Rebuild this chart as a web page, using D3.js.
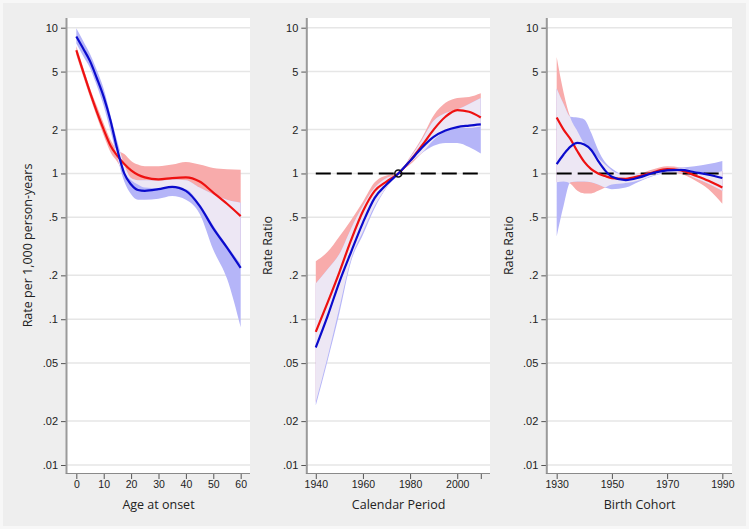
<!DOCTYPE html>
<html><head><meta charset="utf-8">
<script src="https://cdn.jsdelivr.net/npm/d3@7/dist/d3.min.js"></script>
<style>
html,body{margin:0;padding:0;background:#f7f7f7;}
svg{display:block;font-family:"Open Sans","Noto Sans",sans-serif;}
</style></head>
<body>
<svg id="chart" width="749" height="529"></svg>
<script>
// ---------- Data ----------
const yTickValues = [10, 5, 2, 1, 0.5, 0.2, 0.1, 0.05, 0.02, 0.01];
const yTickLabels = ["10", "5", "2", "1", ".5", ".2", ".1", ".05", ".02", ".01"];

// Panel 1: Age at onset
const ageX = [0, 2.5, 5, 7.5, 10, 12.5, 15, 17.5, 20, 22.5, 25, 30, 35, 40, 45, 50, 55, 60];
const ageRed      = [7.0, 5.0, 3.6, 2.65, 2.0, 1.55, 1.32, 1.16, 1.05, 0.98, 0.94, 0.91, 0.93, 0.94, 0.88, 0.74, 0.62, 0.51];
const ageRedUpper = [7.5, 5.35, 3.85, 2.9, 2.2, 1.7, 1.45, 1.36, 1.22, 1.15, 1.12, 1.12, 1.15, 1.2, 1.15, 1.09, 1.07, 1.06];
const ageRedLower = [6.5, 4.65, 3.35, 2.45, 1.82, 1.4, 1.2, 1.0, 0.9, 0.84, 0.8, 0.79, 0.8, 0.78, 0.62, 0.44, 0.32, 0.24];
const ageBlue      = [8.7, 7.2, 5.9, 4.5, 3.35, 2.3, 1.45, 1.0, 0.84, 0.77, 0.76, 0.78, 0.81, 0.76, 0.6, 0.42, 0.31, 0.225];
const ageBlueUpper = [9.9, 8.1, 6.6, 5.1, 3.8, 2.5, 1.65, 1.15, 0.93, 0.9, 0.9, 0.89, 0.91, 0.9, 0.8, 0.72, 0.66, 0.63];
const ageBlueLower = [7.8, 6.4, 5.3, 4.0, 2.9, 1.95, 1.28, 0.88, 0.72, 0.66, 0.66, 0.67, 0.7, 0.66, 0.53, 0.3, 0.19, 0.088];
const ageTicks = [0, 10, 20, 30, 40, 50, 60];

// Panel 2: Calendar period
const perX = [1940, 1945, 1950, 1955, 1960, 1965, 1970, 1975, 1980, 1985, 1990, 1995, 2000, 2005, 2010];
const perRed      = [0.082, 0.13, 0.21, 0.35, 0.55, 0.76, 0.88, 1.0, 1.22, 1.55, 2.0, 2.45, 2.72, 2.65, 2.42];
const perRedUpper = [0.25, 0.29, 0.37, 0.48, 0.64, 0.87, 0.97, 1.0, 1.3, 1.75, 2.5, 3.05, 3.3, 3.35, 3.55];
const perRedLower = [0.027, 0.055, 0.12, 0.26, 0.4, 0.6, 0.8, 1.0, 1.15, 1.38, 1.7, 1.95, 2.05, 2.05, 2.1];
const perBlue      = [0.064, 0.105, 0.18, 0.29, 0.46, 0.68, 0.84, 1.0, 1.22, 1.5, 1.78, 1.97, 2.08, 2.13, 2.17];
const perBlueUpper = [0.176, 0.22, 0.28, 0.42, 0.6, 0.8, 0.93, 1.0, 1.28, 1.7, 2.3, 2.6, 2.75, 3.0, 3.3];
const perBlueLower = [0.0256, 0.052, 0.11, 0.25, 0.38, 0.58, 0.8, 1.0, 1.18, 1.38, 1.55, 1.62, 1.62, 1.52, 1.37];
const perTicks = [1940, 1960, 1980, 2000, 2010];
const perTickLabels = ["1940", "1960", "1980", "2000", ""];

// Panel 3: Birth cohort
const cohX = [1930, 1932.5, 1935, 1937.5, 1940, 1942.5, 1945, 1947.5, 1950, 1955, 1960, 1965, 1970, 1975, 1980, 1985, 1990];
const cohRed      = [2.42, 2.0, 1.72, 1.42, 1.2, 1.07, 1.0, 0.96, 0.93, 0.92, 0.96, 1.02, 1.07, 1.05, 0.97, 0.89, 0.80];
const cohRedUpper = [6.3, 3.6, 2.4, 1.95, 1.6, 1.42, 1.28, 1.15, 1.05, 0.98, 1.0, 1.07, 1.12, 1.1, 1.04, 1.0, 1.04];
const cohRedLower = [0.87, 0.88, 0.85, 0.76, 0.73, 0.73, 0.76, 0.8, 0.84, 0.86, 0.9, 0.97, 1.02, 0.99, 0.9, 0.78, 0.62];
const cohBlue      = [1.16, 1.35, 1.53, 1.62, 1.58, 1.45, 1.22, 1.05, 0.95, 0.9, 0.94, 1.01, 1.05, 1.06, 1.02, 0.98, 0.93];
const cohBlueUpper = [3.83, 3.0, 2.45, 2.42, 2.35, 1.9, 1.45, 1.2, 1.08, 0.98, 0.99, 1.04, 1.08, 1.1, 1.12, 1.16, 1.22];
const cohBlueLower = [0.37, 0.6, 0.87, 0.88, 0.88, 0.87, 0.84, 0.8, 0.78, 0.8, 0.88, 0.96, 1.01, 1.02, 0.93, 0.85, 0.76];
const cohTicks = [1930, 1950, 1970, 1990];

// ---------- Drawing ----------
const svg = d3.select("#chart");
svg.append("rect").attr("x", 3).attr("y", 3).attr("width", 743).attr("height", 523).attr("fill", "#eeeeee");

const COLORS = { red: "#ee1111", blue: "#0b0bcc", pink: "#f8abab", lblue: "#b5b5f8", lav: "#ede7f4" };
const yTop = 18, yBot = 473;
const y = d3.scaleLog().domain([0.01, 10]).range([465, 27.7]);

const panels = [
  { left: 67, right: 250, dom: [-3.4, 63.4], xs: ageX,
    red: ageRed, ru: ageRedUpper, rl: ageRedLower, blue: ageBlue, bu: ageBlueUpper, bl: ageBlueLower,
    ticks: ageTicks, tickLabels: ageTicks.map(String), xTitle: "Age at onset", yTitle: "Rate per 1,000 person-years", yTitleX: 28, ref: false },
  { left: 307.3, right: 490, dom: [1936.4, 2013.9], xs: perX,
    red: perRed, ru: perRedUpper, rl: perRedLower, blue: perBlue, bu: perBlueUpper, bl: perBlueLower,
    ticks: perTicks, tickLabels: perTickLabels, xTitle: "Calendar Period", yTitle: "Rate Ratio", yTitleX: 268, ref: true, refPoint: 1975 },
  { left: 547.3, right: 732, dom: [1926.6, 1993.5], xs: cohX,
    red: cohRed, ru: cohRedUpper, rl: cohRedLower, blue: cohBlue, bu: cohBlueUpper, bl: cohBlueLower,
    ticks: cohTicks, tickLabels: cohTicks.map(String), xTitle: "Birth Cohort", yTitle: "Rate Ratio", yTitleX: 509, ref: true }
];

panels.forEach((p, i) => {
  const x = d3.scaleLinear().domain(p.dom).range([p.left, p.right]);
  const g = svg.append("g");
  g.append("rect").attr("x", p.left).attr("y", yTop).attr("width", p.right - p.left).attr("height", yBot - yTop).attr("fill", "#ffffff");

  // gridlines
  g.selectAll(".grid").data(yTickValues).enter().append("line")
    .attr("x1", p.left).attr("x2", p.right)
    .attr("y1", d => y(d)).attr("y2", d => y(d))
    .attr("stroke", "#e6e6e6").attr("stroke-width", 1.5);

  const idx = d3.range(p.xs.length);
  const area = (lo, hi) => d3.area().curve(d3.curveMonotoneX)
    .x(j => x(p.xs[j])).y0(j => y(lo[j])).y1(j => y(hi[j]))(idx);
  const line = (vals) => d3.line().curve(d3.curveMonotoneX)
    .x(j => x(p.xs[j])).y(j => y(vals[j]))(idx);

  const clipId = "clipBlue" + i;
  svg.append("clipPath").attr("id", clipId).append("path").attr("d", area(p.bl, p.bu));

  g.append("path").attr("d", area(p.rl, p.ru)).attr("fill", COLORS.pink);
  g.append("path").attr("d", area(p.bl, p.bu)).attr("fill", COLORS.lblue);
  g.append("path").attr("d", area(p.rl, p.ru)).attr("fill", COLORS.lav).attr("clip-path", `url(#${clipId})`);

  if (p.ref) {
    g.append("line").attr("x1", x(p.xs[0])).attr("x2", x(p.xs[p.xs.length - 1]))
      .attr("y1", y(1)).attr("y2", y(1))
      .attr("stroke", "#000").attr("stroke-width", 2).attr("stroke-dasharray", "15,6");
  }

  g.append("path").attr("d", line(p.red)).attr("fill", "none").attr("stroke", COLORS.red).attr("stroke-width", 2.2);
  g.append("path").attr("d", line(p.blue)).attr("fill", "none").attr("stroke", COLORS.blue).attr("stroke-width", 2.2);

  if (p.refPoint) {
    g.append("circle").attr("cx", x(p.refPoint)).attr("cy", y(1)).attr("r", 3.5)
      .attr("fill", "none").attr("stroke", "#111").attr("stroke-width", 1.6);
  }

  // y axis
  const yAxis = d3.axisLeft(y).tickValues(yTickValues).tickFormat((d, k) => yTickLabels[k]).tickSize(6).tickSizeOuter(0).tickPadding(3);
  const ya = svg.append("g").attr("transform", `translate(${p.left},0)`).call(yAxis);
  ya.select(".domain").remove();
  svg.append("line").attr("x1", p.left - 0.5).attr("x2", p.left - 0.5).attr("y1", yTop).attr("y2", yBot)
    .attr("stroke", "#9a9a9a").attr("stroke-width", 2);
  ya.selectAll(".tick line").attr("stroke", "#555");
  ya.selectAll(".tick text").attr("font-size", 11).attr("fill", "#222");

  // x axis
  const xAxis = d3.axisBottom(x).tickValues(p.ticks).tickFormat((d, k) => p.tickLabels[k]).tickSize(6).tickSizeOuter(0).tickPadding(2);
  const xa = svg.append("g").attr("transform", `translate(0,${yBot})`).call(xAxis);
  xa.select(".domain").remove();
  svg.append("line").attr("x1", p.left - 1.5).attr("x2", p.right).attr("y1", yBot + 0.5).attr("y2", yBot + 0.5)
    .attr("stroke", "#8a8a8a").attr("stroke-width", 1.2);
  xa.selectAll(".tick line").attr("stroke", "#555");
  xa.selectAll(".tick text").attr("font-size", 10.5).attr("fill", "#222");

  // titles
  svg.append("text").attr("x", (p.left + p.right) / 2).attr("y", 509)
    .attr("text-anchor", "middle").attr("font-size", 12.5).attr("fill", "#222").text(p.xTitle);
  svg.append("text").attr("transform", `translate(${p.yTitleX},${(yTop + yBot) / 2}) rotate(-90)`)
    .attr("text-anchor", "middle").attr("dy", "0.35em").attr("font-size", 12.5).attr("fill", "#222").text(p.yTitle);
});
</script>
</body></html>
